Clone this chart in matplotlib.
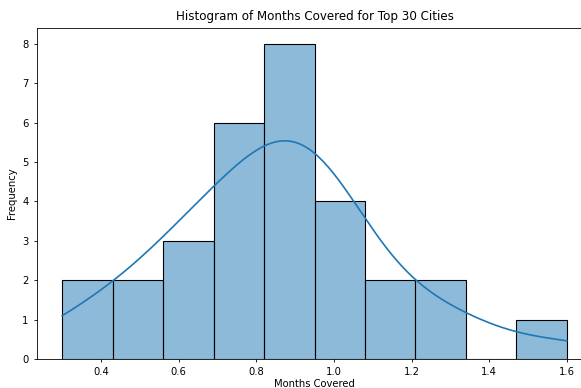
import matplotlib
matplotlib.use("Agg")
import matplotlib.pyplot as plt
import seaborn as sns

months_covered = [0.30, 0.38,
                  0.46, 0.54,
                  0.58, 0.61, 0.62,
                  0.70, 0.70, 0.70, 0.77, 0.78, 0.81,
                  0.83, 0.87, 0.88, 0.90, 0.92, 0.92, 0.93, 0.94,
                  0.97, 0.99, 1.01, 1.04,
                  1.09, 1.18,
                  1.31, 1.31,
                  1.60]

W, H = 581, 388
fig = plt.figure(figsize=(W / 100, H / 100), dpi=100)
ax = fig.add_axes([37 / W, 1 - 359 / H, (592 - 37) / W, (359 - 28) / H])
sns.histplot(months_covered, bins=10, kde=True, ax=ax, color="#1f77b4",
             linewidth=0.8, line_kws={"linewidth": 1.2})
ax.set_title("Histogram of Months Covered for Top 30 Cities", fontsize=8.6)
ax.set_xlabel("Months Covered", fontsize=7.2, labelpad=1)
ax.set_ylabel("Frequency", fontsize=7.2)
ax.tick_params(labelsize=7.2, length=2.5, width=0.6)
for s in ax.spines.values():
    s.set_linewidth(0.6)
fig.savefig("out.png", dpi=100)
